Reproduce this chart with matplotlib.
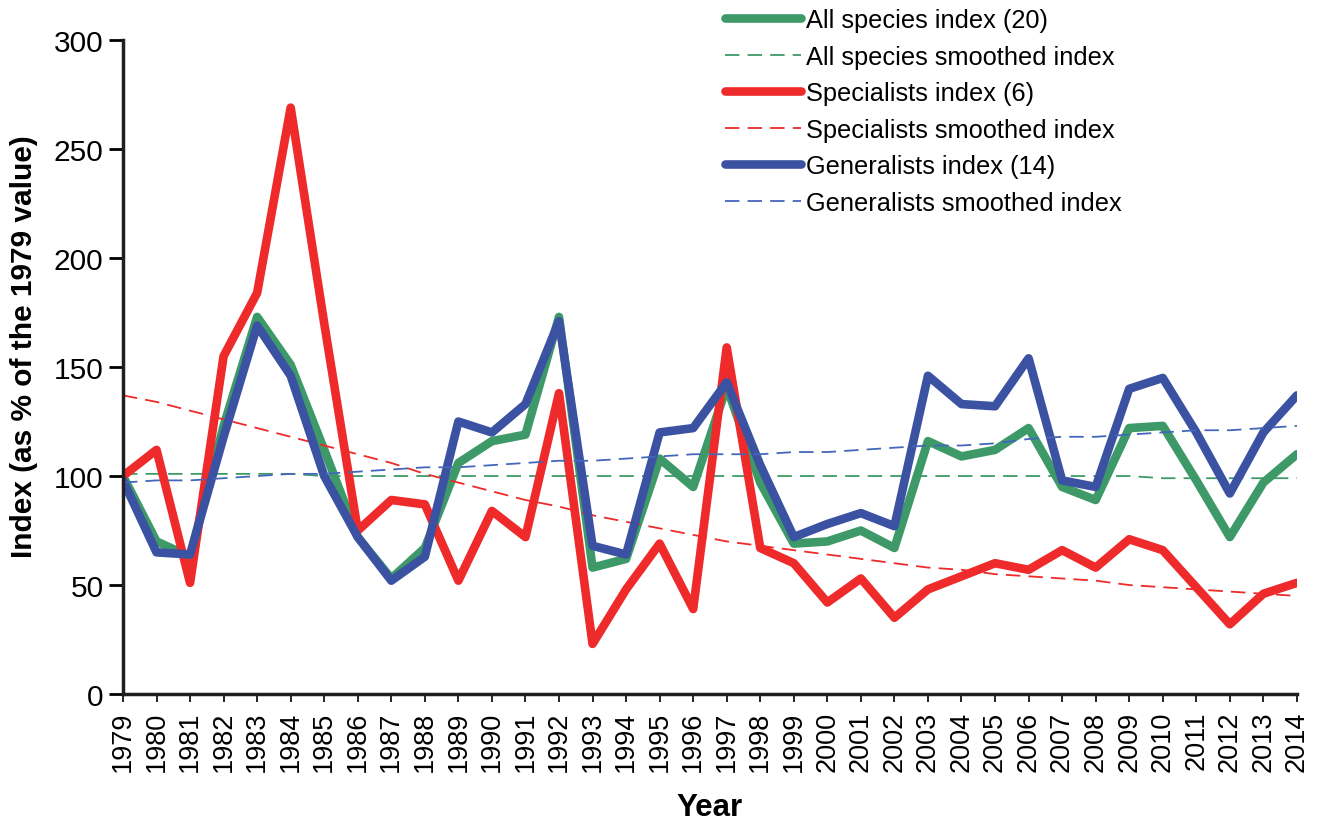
import matplotlib.pyplot as plt

plt.rcParams['font.family'] = ['Liberation Sans', 'DejaVu Sans']

years = list(range(1979, 2015))

all_species = [100, 70, 63, 123, 173, 151, 112, 72, 53, 67, 106, 116, 119, 173, 58, 62, 108, 95,
               141, 97, 69, 70, 75, 67, 116, 109, 112, 122, 95, 89, 122, 123, 98, 72, 97, 110]
all_smooth = [101, 101, 101, 101, 101, 101, 100, 100, 100, 100, 100, 100, 100, 100, 100, 100, 100, 100,
              100, 100, 100, 100, 100, 100, 100, 100, 100, 100, 100, 100, 100, 99, 99, 99, 99, 99]

specialists = [100, 112, 51, 155, 184, 269, 170, 75, 89, 87, 52, 84, 72, 138, 23, 48, 69, 39,
               159, 67, 60, 42, 53, 35, 48, 54, 60, 57, 66, 58, 71, 66, 49, 32, 46, 51]
spec_smooth = [137, 134, 130, 126, 122, 118, 114, 110, 106, 101, 97, 93, 89, 86, 82, 79, 76, 73,
               70, 68, 66, 64, 62, 60, 58, 57, 55, 54, 53, 52, 50, 49, 48, 47, 46, 45]

generalists = [98, 65, 64, 118, 169, 146, 100, 72, 52, 63, 125, 120, 133, 171, 68, 64, 120, 122,
               143, 105, 72, 78, 83, 77, 146, 133, 132, 154, 98, 95, 140, 145, 120, 92, 120, 137]
gen_smooth = [97, 98, 98, 99, 100, 101, 101, 102, 103, 104, 104, 105, 106, 107, 107, 108, 109, 110,
              110, 110, 111, 111, 112, 113, 114, 114, 115, 117, 118, 118, 119, 120, 121, 121, 122, 123]

green = '#3d9a68'
red = '#ee2a2a'
blue = '#3b52a3'

fig = plt.figure(figsize=(13.18, 8.29), dpi=100)
ax = fig.add_axes([0.0933, 0.1616, 0.8907, 0.7889])

# thick = yearly index, thin dashed = smoothed trend
ax.plot(years, all_species, color=green, lw=6.2, solid_joinstyle='round', solid_capstyle='round',
        label='All species index (20)')
ax.plot(years, all_smooth, color=green, lw=1.3, dashes=(8, 4.5), label='All species smoothed index')
ax.plot(years, specialists, color=red, lw=6.2, solid_joinstyle='round', solid_capstyle='round',
        label='Specialists index (6)')
ax.plot(years, spec_smooth, color=red, lw=1.3, dashes=(8, 4.5), label='Specialists smoothed index')
ax.plot(years, generalists, color=blue, lw=6.2, solid_joinstyle='round', solid_capstyle='round',
        label='Generalists index (14)')
ax.plot(years, gen_smooth, color='#4466bb', lw=1.3, dashes=(8, 4.5), label='Generalists smoothed index')

ax.set_xlim(1979, 2014)
ax.set_ylim(0, 300)
ax.set_xticks(years)
ax.set_xticklabels([str(y) for y in years], rotation=90, fontsize=19.5)
ax.set_yticks(range(0, 301, 50))
ax.tick_params(axis='y', labelsize=21.5, length=10, width=2, direction='out', pad=4)
ax.tick_params(axis='x', length=6, width=1.2, direction='out', pad=6)

for s in ['top', 'right']:
    ax.spines[s].set_visible(False)
for s in ['left', 'bottom']:
    ax.spines[s].set_linewidth(2.5)
    ax.spines[s].set_color('#231f20')

ax.set_ylabel('Index (as % of the 1979 value)', fontsize=21.5, fontweight='bold')
ax.yaxis.set_label_coords(-0.072, 0.532)
ax.set_xlabel('Year', fontsize=22.5, fontweight='bold', labelpad=15)

fig.legend(loc='upper left', bbox_to_anchor=(0.550, 0.9887), frameon=False, fontsize=18.3,
           handlelength=3.0, handletextpad=0.2, labelspacing=0.49, borderpad=0, borderaxespad=0)

fig.savefig('out.png', dpi=100)
